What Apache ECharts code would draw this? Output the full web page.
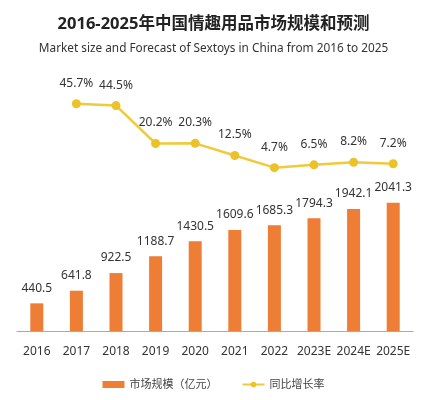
<!DOCTYPE html>
<html><head><meta charset="utf-8">
<script src="https://cdn.jsdelivr.net/npm/echarts@6/dist/echarts.min.js"></script>
<style>html,body{margin:0;padding:0;background:#fff}#c{width:427px;height:400px}</style>
</head><body><div id="c"></div>
<script>
var categories = ['2016','2017','2018','2019','2020','2021','2022','2023E','2024E','2025E'];
var marketSize = [440.5, 641.8, 922.5, 1188.7, 1430.5, 1609.6, 1685.3, 1794.3, 1942.1, 2041.3];
var growthRate = [null, 45.7, 44.5, 20.2, 20.3, 12.5, 4.7, 6.5, 8.2, 7.2];
var seriesNames = ['市场规模（亿元）', '同比增长率'];
var titleText = '2016-2025年中国情趣用品市场规模和预测';
var subtitleText = 'Market size and Forecast of Sextoys in China from 2016 to 2025';

var font = '"Noto Sans", "Noto Sans CJK SC", sans-serif';
var chart = echarts.init(document.getElementById('c'));
chart.setOption({
  backgroundColor: '#fff',
  animation: false,
  textStyle: {fontFamily: font},
  title: {
    text: titleText, subtext: subtitleText, left: 'center', top: 11, itemGap: 10,
    textStyle: {fontSize: 16.5, fontWeight: 'bold', color: '#222', fontFamily: font},
    subtextStyle: {fontSize: 11.8, color: '#333', fontFamily: font}
  },
  legend: {
    bottom: 5, left: 'center', itemWidth: 22, itemHeight: 7, itemGap: 24,
    textStyle: {fontSize: 11, color: '#444', fontFamily: font},
    data: [{name: seriesNames[0], icon: 'rect'}, {name: seriesNames[1]}]
  },
  grid: [
    {left: 17, right: 14, top: 97, height: 78},
    {left: 17, right: 14, top: 174, bottom: 69}
  ],
  xAxis: [
    {gridIndex: 0, type: 'category', data: categories, show: false},
    {gridIndex: 1, type: 'category', data: categories,
     axisLine: {lineStyle: {color: '#aaa'}}, axisTick: {show: false},
     axisLabel: {color: '#333', fontSize: 12, margin: 15, interval: 0}}
  ],
  yAxis: [
    {gridIndex: 0, type: 'value', min: 0, max: 50, show: false},
    {gridIndex: 1, type: 'value', min: 0, max: 2500, show: false}
  ],
  series: [
    {name: seriesNames[0], type: 'bar', xAxisIndex: 1, yAxisIndex: 1, data: marketSize,
     barWidth: 13, itemStyle: {color: '#EE7D35'},
     label: {show: true, position: 'top', distance: 9, color: '#333', fontSize: 12}},
    {name: seriesNames[1], type: 'line', xAxisIndex: 0, yAxisIndex: 0, data: growthRate,
     symbol: 'circle', symbolSize: 9, lineStyle: {color: '#EFCB3C', width: 2.5},
     itemStyle: {color: '#EBC22A'},
     label: {show: true, position: 'top', distance: 10, color: '#333', fontSize: 12,
             formatter: function(p){ return p.value + '%'; }}}
  ]
});
</script></body></html>
